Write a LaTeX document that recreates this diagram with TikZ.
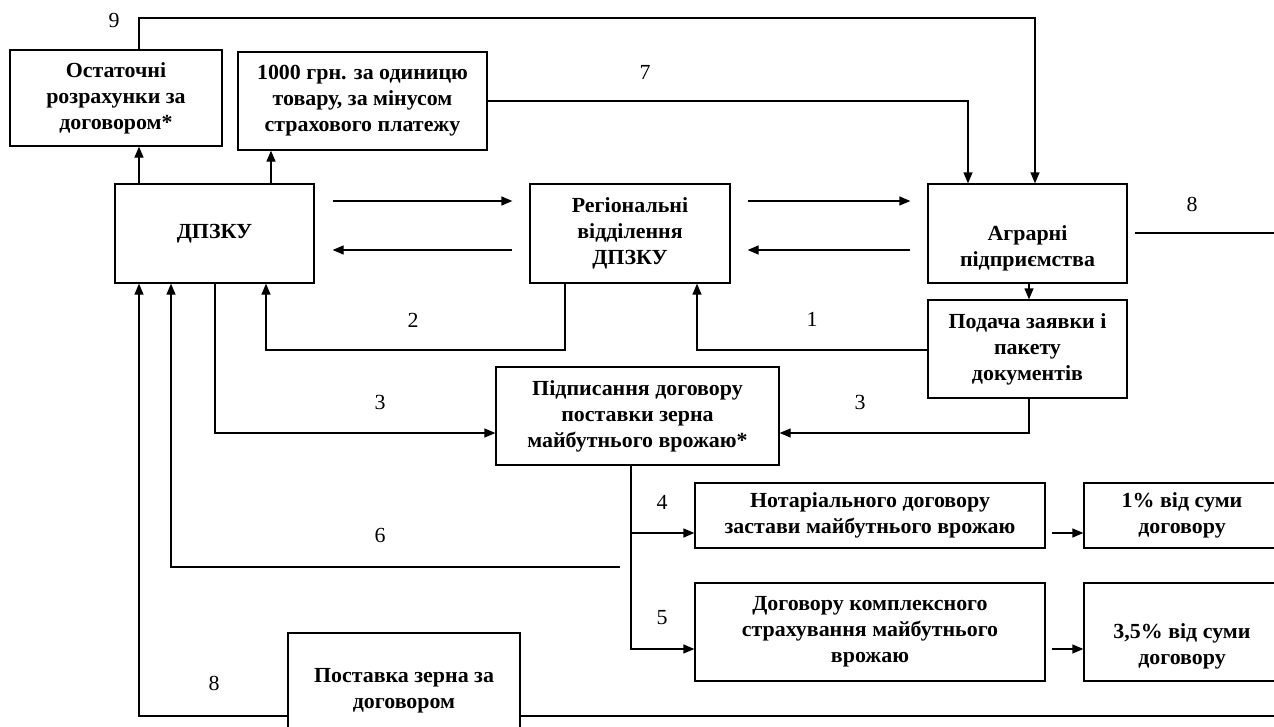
\documentclass[tikz,border=0pt]{standalone}
\usepackage{fontspec}
\setmainfont{Liberation Serif}[FakeStretch=1.02]
\usetikzlibrary{arrows.meta}
\begin{document}
\begin{tikzpicture}[x=1pt,y=-1pt,
  box/.style={draw, line width=1.3pt, rectangle, inner sep=0pt, align=center,
    font=\fontsize{21.5}{26}\selectfont\bfseries},
  lbl/.style={font=\fontsize{21.5}{26}\selectfont, inner sep=0pt},
  conn/.style={line width=1.3pt},
  arr/.style={conn, -{Triangle[length=11pt,width=9pt]}},
]
\useasboundingbox (0,0) rectangle (1274,726);
\clip (0,0) rectangle (1274,726);

% boxes
\node[box, minimum width=212pt, minimum height=96pt] (ost) at (116,98) {Остаточні\\розрахунки за\\договором*};
\node[box, minimum width=249pt, minimum height=98pt] (k1000) at (362.5,101) {1000 грн. за одиницю\\товару, за мінусом\\страхового платежу};
\node[box, minimum width=199pt, minimum height=99pt] (dpzku) at (214.5,233.5) {ДПЗКУ};
\node[box, minimum width=200pt, minimum height=99pt] (reg) at (630,233.5) {Регіональні\\відділення\\ДПЗКУ};
\node[box, minimum width=199pt, minimum height=99pt] (agr) at (1027.5,233.5) {\strut\\Аграрні\\підприємства};
\node[box, minimum width=199pt, minimum height=98pt] (pod) at (1027.5,349) {Подача заявки і\\пакету\\документів};
\node[box, minimum width=283pt, minimum height=98pt] (pidp) at (637.5,416) {Підписання договору\\поставки зерна\\майбутнього врожаю*};
\node[box, minimum width=350pt, minimum height=65pt] (not) at (870,515.5) {Нотаріального договору\\застави майбутнього врожаю};
\node[box, minimum width=350pt, minimum height=98pt] (dog) at (870,632) {Договору комплексного\\страхування майбутнього\\врожаю};
\node[box, minimum width=196pt, minimum height=65pt] (p1) at (1182,515.5) {1\% від суми\\договору};
\node[box, minimum width=196pt, minimum height=98pt] (p35) at (1182,632) {\strut\\3,5\% від суми\\договору};
\node[box, minimum width=232pt, minimum height=116pt] (post) at (404,691) {Поставка зерна за\\договором};

% helper columns and rows
\coordinate (c139) at (139,0);
\coordinate (c171) at (171,0);
\coordinate (c215) at (215,0);
\coordinate (c266) at (266,0);
\coordinate (c271) at (271,0);
\coordinate (c565) at (565,0);
\coordinate (c631) at (631,0);
\coordinate (c697) at (697,0);
\coordinate (c968) at (968,0);
\coordinate (c1029) at (1029,0);
\coordinate (c1035) at (1035,0);
\coordinate (r18) at (0,18);
\coordinate (r201) at (0,201);
\coordinate (r233) at (0,233);
\coordinate (r250) at (0,250);
\coordinate (r350) at (0,350);
\coordinate (r433) at (0,433);
\coordinate (r533) at (0,533);
\coordinate (r649) at (0,649);
\coordinate (r716) at (0,716);
\coordinate (s6) at (620,567);
\coordinate (e716) at (1290,716);
\coordinate (e233) at (1290,233);

% connectors
\draw[arr] (ost.north -| c139) -- (c139 |- r18) -- (c1035 |- r18) -- (agr.north -| c1035);
\draw[arr] (k1000.east) -| (agr.north -| c968);
\draw[arr] (dpzku.north -| c139) -- (ost.south -| c139);
\draw[arr] (dpzku.north -| c271) -- (k1000.south -| c271);
\draw[arr, shorten <=18pt, shorten >=17pt] (dpzku.east |- r201) -- (reg.west |- r201);
\draw[arr, shorten <=17pt, shorten >=18pt] (reg.west |- r250) -- (dpzku.east |- r250);
\draw[arr, shorten <=17pt, shorten >=17pt] (reg.east |- r201) -- (agr.west |- r201);
\draw[arr, shorten <=17pt, shorten >=17pt] (agr.west |- r250) -- (reg.east |- r250);
\draw[arr] (reg.south -| c565) |- (r350 -| c266) -- (dpzku.south -| c266);
\draw[arr] (pod.west |- r350) -| (reg.south -| c697);
\draw[arr] (agr.south -| c1029) -- (pod.north -| c1029);
\draw[arr] (dpzku.south -| c215) |- (pidp.west |- r433);
\draw[arr] (pod.south -| c1029) |- (pidp.east |- r433);
\draw[arr] (s6) -| (dpzku.south -| c171);
\draw[arr] (pidp.south -| c631) |- (dog.west |- r649);
\draw[arr] (c631 |- r533) -- (not.west |- r533);
\draw[arr, shorten <=6pt] (not.east |- r533) -- (p1.west |- r533);
\draw[arr, shorten <=6pt] (dog.east |- r649) -- (p35.west |- r649);
\draw[arr] (post.west |- r716) -| (dpzku.south -| c139);
\draw[conn] (post.east |- r716) -- (e716);
\draw[conn, shorten <=7pt] (agr.east |- r233) -- (e233);

% labels
\node[lbl] (l9) at (114,20) {9};
\node[lbl] (l7) at (645,72) {7};
\node[lbl] (l8a) at (1192,204) {8};
\node[lbl] (l2) at (413,320) {2};
\node[lbl] (l1) at (812,319) {1};
\node[lbl] (l3a) at (380,402) {3};
\node[lbl] (l3b) at (860,402) {3};
\node[lbl] (l6) at (380,535) {6};
\node[lbl] (l4) at (662,502) {4};
\node[lbl] (l5) at (662,618) {5};
\node[lbl] (l8b) at (214,683) {8};
\end{tikzpicture}
\end{document}
